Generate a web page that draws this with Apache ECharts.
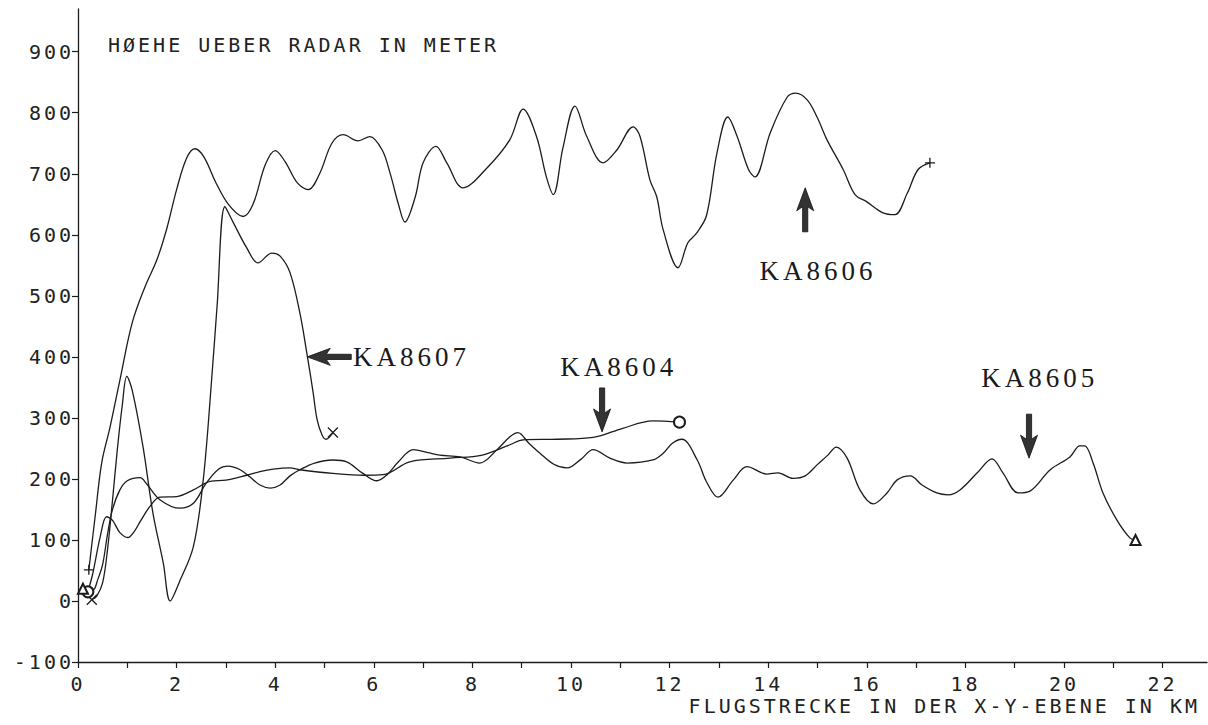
<!DOCTYPE html>
<html>
<head>
<meta charset="utf-8">
<script src="https://cdn.jsdelivr.net/npm/echarts@6.0.0/dist/echarts.min.js"></script>
<style>
  html, body { margin: 0; padding: 0; background: #ffffff; }
  #chart { width: 1208px; height: 725px; }
  /* plotter / typewriter lettering is widely spaced */
  text[style*="DejaVu Sans Mono"] { letter-spacing: 3px; }
  text[style*="Liberation Serif"] { letter-spacing: 4px; }
</style>
</head>
<body>
<div id="chart"></div>
<script>
// ---------------- data ----------------
const yTicks = [-100, 0, 100, 200, 300, 400, 500, 600, 700, 800, 900];
const xTicks = [0,1,2,3,4,5,6,7,8,9,10,11,12,13,14,15,16,17,18,19,20,21,22];
const xLabels = [0,2,4,6,8,10,12,14,16,18,20,22];

const yTitle = 'HØEHE UEBER RADAR IN METER';
const xTitle = 'FLUGSTRECKE IN DER X-Y-EBENE IN KM';

// KA8606 (+)
const ka8606X = [0.22,0.35,0.48,0.65,0.85,1.1,1.36,1.6,1.8,2.0,2.2,2.37,2.55,2.8,3.05,3.35,3.55,3.8,4.0,4.2,4.45,4.67,4.9,5.15,5.38,5.68,5.92,6.17,6.33,6.5,6.63,6.84,7.0,7.26,7.48,7.81,8.3,8.76,9.03,9.3,9.5,9.64,9.84,10.08,10.32,10.65,10.93,11.26,11.4,11.6,11.74,11.87,12.17,12.37,12.55,12.75,12.96,13.18,13.37,13.6,13.73,14.04,14.38,14.56,14.79,14.99,15.19,15.52,15.76,16.0,16.33,16.57,16.82,17.04,17.28];
const ka8606Y = [51,140,226,285,362,456,515,559,610,674,725,741,728,685,650,630,650,715,738,720,685,674,700,750,764,754,761,739,701,650,621,662,718,745,718,677,710,756,806,761,695,666,744,811,761,718,739,777,761,690,662,608,546,587,603,632,734,793,761,707,695,767,825,832,821,793,756,707,666,654,636,633,668,707,718];

// KA8607 (x)
const ka8607X = [0.28,0.38,0.5,0.6,0.7,0.8,0.9,0.99,1.1,1.32,1.52,1.73,1.87,2.05,2.34,2.54,2.71,2.82,2.98,3.15,3.42,3.65,3.93,4.1,4.3,4.5,4.64,4.77,4.85,4.95,5.03,5.17];
const ka8607Y = [2,8,30,85,165,250,322,368,345,252,144,62,0,30,89,198,362,482,646,620,579,554,570,565,538,472,407,341,297,272,265,276];

// KA8604 (o)
const ka8604X = [0.2,0.3,0.45,0.58,0.7,0.85,1.01,1.15,1.26,1.46,1.66,2.0,2.34,2.68,3.0,3.42,3.69,3.96,4.3,4.5,5.17,5.8,6.19,6.73,7.55,8.2,8.76,9.03,9.72,10.45,11.05,11.66,12.2];
const ka8604Y = [15,45,105,138,132,112,104,115,130,155,170,171,182,196,198,206,212,216,218,215,209,206,207,228,234,239,256,264,265,268,283,295,293];

// KA8605 (triangle)
const ka8605X = [0.1,0.3,0.4,0.5,0.6,0.7,0.85,1.0,1.26,1.39,1.66,2.07,2.34,2.6,2.85,3.05,3.29,3.49,3.69,3.9,4.1,4.3,4.5,4.8,5.17,5.45,5.78,6.06,6.27,6.5,6.8,7.1,7.34,7.75,8.15,8.5,8.76,8.92,9.15,9.37,9.65,9.92,10.2,10.45,10.79,11.14,11.66,11.87,12.05,12.25,12.56,12.75,12.98,13.29,13.57,13.97,14.2,14.5,14.75,14.99,15.21,15.38,15.6,15.86,16.13,16.41,16.61,16.88,17.12,17.42,17.65,17.89,18.24,18.54,18.76,19.07,19.31,19.72,20.12,20.32,20.42,20.59,20.79,21.07,21.34,21.45];
const ka8605Y = [20,18,35,60,110,150,182,197,202,192,166,152,160,193,216,221,215,203,190,185,190,205,215,226,231,228,209,197,207,228,248,243,239,236,226,248,269,276,258,242,224,218,232,248,234,226,231,242,258,265,231,195,170,198,220,208,210,201,205,223,239,252,234,182,159,177,198,205,190,177,174,182,210,233,210,177,180,215,236,254,254,226,177,133,103,100];

// annotations (arrow tip and label anchor, in data units)
const annNames  = ['KA8607', 'KA8604', 'KA8606', 'KA8605'];
const annTipX   = [4.65, 10.63, 14.75, 19.29];
const annTipY   = [400, 277, 677, 234];
const annLabX   = [5.58, 10.97, 15.01, 19.51];
const annLabY   = [400, 384, 541, 366];
const annDir    = ['left', 'down', 'up', 'down'];
const annAlign  = ['left', 'center', 'center', 'center'];

// ---------------- chart ----------------
const zip = (xs, ys) => xs.map((x, i) => [x, ys[i]]);
const INK = '#1c1c1c';
const plotFont = '"DejaVu Sans Mono"';

const PLUS  = 'path://M5,0L5,10M0,5L10,5';
const CROSS = 'path://M0,0L10,10M10,0L0,10';

function endsOnly(size, n) {
  return function (v, p) { return (p.dataIndex === 0 || p.dataIndex === n - 1) ? size : 0; };
}

function lineSeries(name, xs, ys, symbol, size) {
  return {
    name: name,
    type: 'line',
    data: zip(xs, ys),
    smooth: 0.35,
    showSymbol: true,
    showAllSymbol: true,
    symbol: symbol,
    symbolSize: endsOnly(size, xs.length),
    lineStyle: { color: INK, width: 1.3 },
    itemStyle: { color: INK, borderColor: INK, borderWidth: 1.3 },
    emphasis: { disabled: true },
    silent: true,
    z: 3
  };
}

const chart = echarts.init(document.getElementById('chart'), null, { renderer: 'svg' });

chart.setOption({
  animation: false,
  backgroundColor: '#ffffff',
  grid: { left: 78, right: 1, top: 9, bottom: 63, outerBoundsMode: 'none' },
  xAxis: {
    type: 'value',
    min: 0, max: 22.9,
    axisLine: { show: true, onZero: false, lineStyle: { color: INK, width: 1.3 } },
    axisTick: { show: true, length: 6, customValues: xTicks, lineStyle: { color: INK, width: 1.2 } },
    axisLabel: { customValues: xLabels, margin: 12, fontFamily: plotFont, fontSize: 20, color: '#222' },
    splitLine: { show: false }
  },
  yAxis: {
    type: 'value',
    min: -100, max: 970,
    axisLine: { show: true, onZero: false, lineStyle: { color: INK, width: 1.3 } },
    axisTick: { show: true, length: 6, customValues: yTicks, lineStyle: { color: INK, width: 1.2 } },
    axisLabel: { customValues: yTicks, margin: 4, fontFamily: plotFont, fontSize: 20, color: '#222' },
    splitLine: { show: false }
  },
  graphic: [
    { type: 'text', x: 108, y: 45, silent: true,
      style: { text: yTitle, font: '20px ' + plotFont, fill: '#222', align: 'left', verticalAlign: 'middle' } },
    { type: 'text', x: 1200, y: 706, silent: true,
      style: { text: xTitle, font: '20px ' + plotFont, fill: '#222', align: 'right', verticalAlign: 'middle' } }
  ],
  series: [
    lineSeries('KA8606', ka8606X, ka8606Y, PLUS, 10),
    lineSeries('KA8607', ka8607X, ka8607Y, CROSS, 10),
    lineSeries('KA8604', ka8604X, ka8604Y, 'emptyCircle', 11),
    lineSeries('KA8605', ka8605X, ka8605Y, 'emptyTriangle', 10),
    {
      type: 'custom',
      coordinateSystem: 'cartesian2d',
      silent: true,
      clip: false,
      z: 5,
      data: annNames.map((n, i) => [annTipX[i], annTipY[i], annLabX[i], annLabY[i]]),
      encode: { x: 0, y: 1 },
      renderItem: function (params, api) {
        const i = params.dataIndex;
        const tip = api.coord([api.value(0), api.value(1)]);
        const lab = api.coord([api.value(2), api.value(3)]);
        const L = 44, hl = 23, notch = 19, hw = 8.5, sw = 2.6;
        const local = [[0,0],[hw,hl],[sw,notch],[sw,L],[-sw,L],[-sw,notch],[-hw,hl]];
        const dir = annDir[i];
        const pts = local.map(function (q) {
          if (dir === 'up') return [tip[0] + q[0], tip[1] + q[1]];
          if (dir === 'down') return [tip[0] + q[0], tip[1] - q[1]];
          return [tip[0] + q[1], tip[1] + q[0]];
        });
        return {
          type: 'group',
          children: [
            { type: 'polygon', shape: { points: pts },
              style: { fill: '#333333', stroke: '#111111', lineWidth: 0.8 } },
            { type: 'text', x: lab[0], y: lab[1],
              style: { text: annNames[i], font: '27px "Liberation Serif"', fill: '#1a1a1a',
                       align: annAlign[i], verticalAlign: 'middle' } }
          ]
        };
      }
    }
  ]
});
</script>
</body>
</html>
